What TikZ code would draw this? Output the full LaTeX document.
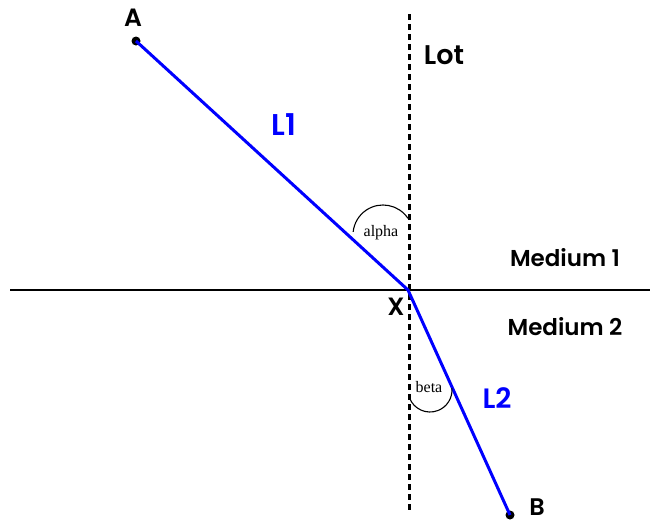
\documentclass[tikz,border=0pt]{standalone}
\usepackage{fontspec}
\setsansfont{Poppins}[BoldFont=* SemiBold]
\newfontfamily\angfont{Liberation Serif}
\begin{document}
\begin{tikzpicture}[x=1pt,y=-1pt,
  lbl/.style={font=\sffamily\bfseries\fontsize{#1}{#1}\selectfont, inner sep=0pt},
  lbl/.default=24,
  ang/.style={font=\angfont\fontsize{16}{16}\selectfont, inner sep=0pt},
  ray/.style={draw=blue, line width=3pt},
  dot/.style={circle, fill=black, inner sep=0pt, minimum size=9pt}]
\useasboundingbox (0,0) rectangle (650,525);
% points
\coordinate (X) at (408,290);
\node[dot] (A) at (136,41) {};
\node[dot] (B) at (510,515) {};
\coordinate (H1) at (10,290);
\coordinate (H2) at (650,290);
\coordinate (V1) at (409,14);
\coordinate (V2) at (409,511);
% lines
\draw[line width=2.6pt] (H1) -- (H2);
\draw[line width=3pt, dash pattern=on 6pt off 4pt] (V1) -- (V2);
\draw[ray] (A.center) -- (X) -- (B.center);
% arcs
\draw[line width=1.1pt] (383,235) ++(-34:30) arc[start angle=-34, end angle=-174, radius=30];
\draw[line width=1.1pt] (430,390) ++(159:22) arc[start angle=159, end angle=-5, radius=22];
% labels
\node[lbl=25] (lA) at (133,18) {A};
\node[lbl=24] (lB) at (537,507) {B};
\node[lbl=25] (lX) at (396,307) {X};
\node[lbl=27] (lLot) at (444,55) {Lot};
\node[lbl=30, text=blue] (lL1) at (284,125) {L1};
\node[lbl=28, text=blue] (lL2) at (497,398) {L2};
\node[lbl=23] (m1) at (565,258) {Medium 1};
\node[lbl=23] (m2) at (565,327) {Medium 2};
\node[ang] (al) at (381,233) {alpha};
\node[ang] (be) at (429,387) {beta};
\end{tikzpicture}
\end{document}
